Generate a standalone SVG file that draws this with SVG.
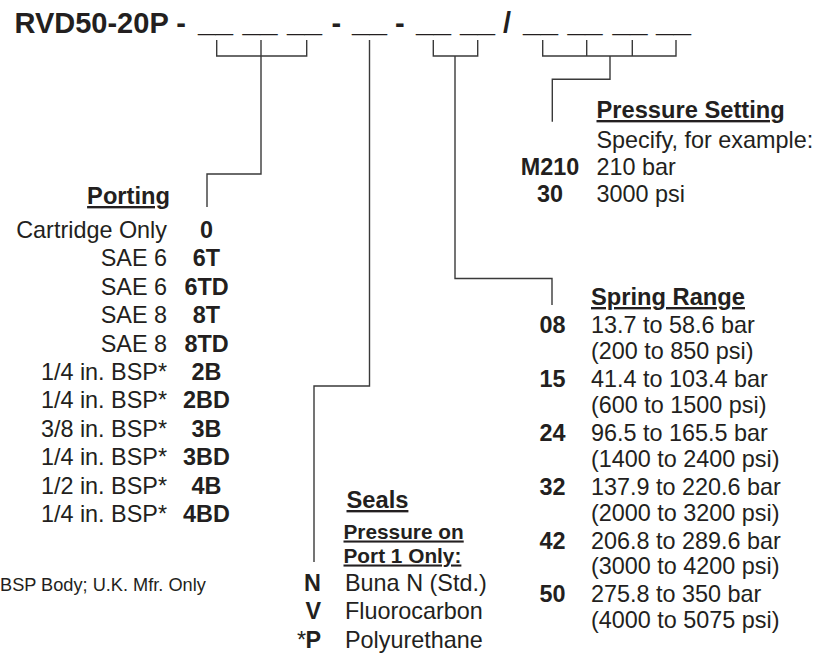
<svg xmlns="http://www.w3.org/2000/svg" width="835" height="654" viewBox="0 0 835 654">
<style>
text{font-family:"Liberation Sans",Arial,Helvetica,sans-serif;fill:#231f20}
.t{font-size:29px;font-weight:bold}
.u{font-size:29px;font-weight:bold}
.r{font-size:23.4px}
.b{font-size:23.4px;font-weight:bold}
.h{font-size:23.7px;font-weight:bold;text-decoration:underline}
.sh{font-size:20.8px;font-weight:bold;text-decoration:underline}
.fn{font-size:18.2px}
.e{text-anchor:end}
.m{text-anchor:middle}
.ln{fill:none;stroke:#3a3a3a;stroke-width:1.4}
</style>
<rect width="835" height="654" fill="#fff"/>
<g id="model-code">
<text class="t" x="14.5" y="32.5">RVD50-20P -</text>
<text class="u" x="198" y="32" textLength="35" lengthAdjust="spacingAndGlyphs">__</text>
<text class="u" x="242.5" y="32" textLength="35" lengthAdjust="spacingAndGlyphs">__</text>
<text class="u" x="287" y="32" textLength="35" lengthAdjust="spacingAndGlyphs">__</text>
<text class="t" x="331.5" y="32.5">-</text>
<text class="u" x="352" y="32" textLength="35" lengthAdjust="spacingAndGlyphs">__</text>
<text class="t" x="395" y="32.5">-</text>
<text class="u" x="416" y="32" textLength="35" lengthAdjust="spacingAndGlyphs">__</text>
<text class="u" x="460" y="32" textLength="35" lengthAdjust="spacingAndGlyphs">__</text>
<text class="t" x="503" y="32.5">/</text>
<text class="u" x="523" y="32" textLength="35" lengthAdjust="spacingAndGlyphs">__</text>
<text class="u" x="567.5" y="32" textLength="35" lengthAdjust="spacingAndGlyphs">__</text>
<text class="u" x="612.5" y="32" textLength="35" lengthAdjust="spacingAndGlyphs">__</text>
<text class="u" x="656" y="32" textLength="35" lengthAdjust="spacingAndGlyphs">__</text>
</g>
<g id="connectors" class="ln">
<path class="ln" d="M216.7 40V56H306.7V40M261 40V174H207V207"/>
<path class="ln" d="M369.5 40V386H314V562"/>
<path class="ln" d="M433.3 40V56H477.7V40M455 56V278.5H552V305"/>
<path class="ln" d="M542.7 40V56H676V40M586.7 40V56M632.3 40V56M610 56V79.3H552.3V121.7"/>
</g>
<g id="porting">
<text class="h e" x="170" y="204">Porting</text>
<text class="r e" x="167" y="238">Cartridge Only</text><text class="b m" x="206.5" y="238">0</text>
<text class="r e" x="167" y="266.4">SAE 6</text><text class="b m" x="206.5" y="266.4">6T</text>
<text class="r e" x="167" y="294.8">SAE 6</text><text class="b m" x="206.5" y="294.8">6TD</text>
<text class="r e" x="167" y="323.2">SAE 8</text><text class="b m" x="206.5" y="323.2">8T</text>
<text class="r e" x="167" y="351.6">SAE 8</text><text class="b m" x="206.5" y="351.6">8TD</text>
<text class="r e" x="167" y="380">1/4 in. BSP*</text><text class="b m" x="206.5" y="380">2B</text>
<text class="r e" x="167" y="408.4">1/4 in. BSP*</text><text class="b m" x="206.5" y="408.4">2BD</text>
<text class="r e" x="167" y="436.8">3/8 in. BSP*</text><text class="b m" x="206.5" y="436.8">3B</text>
<text class="r e" x="167" y="465.2">1/4 in. BSP*</text><text class="b m" x="206.5" y="465.2">3BD</text>
<text class="r e" x="167" y="493.6">1/2 in. BSP*</text><text class="b m" x="206.5" y="493.6">4B</text>
<text class="r e" x="167" y="522">1/4 in. BSP*</text><text class="b m" x="206.5" y="522">4BD</text>
</g>
<g id="footnote">
<text class="fn" x="0" y="591">BSP Body; U.K. Mfr. Only</text>
</g>
<g id="seals">
<text class="h" x="346.5" y="508">Seals</text>
<text class="sh" x="343.5" y="538.5">Pressure on</text>
<text class="sh" x="343.5" y="562.5">Port 1 Only:</text>
<text class="b e" x="321" y="591">N</text><text class="r" x="345" y="591">Buna N (Std.)</text>
<text class="b e" x="321" y="619">V</text><text class="r" x="345" y="619">Fluorocarbon</text>
<text class="r e" x="306" y="648">*</text><text class="b e" x="321" y="648">P</text><text class="r" x="345" y="648">Polyurethane</text>
</g>
<g id="pressure-setting">
<text class="h" x="596.5" y="118">Pressure Setting</text>
<text class="r" x="596.5" y="148">Specify, for example:</text>
<text class="b m" x="550" y="175">M210</text><text class="r" x="596.5" y="175">210 bar</text>
<text class="b m" x="550" y="202">30</text><text class="r" x="596.5" y="202">3000 psi</text>
</g>
<g id="spring-range">
<text class="h" x="591" y="305">Spring Range</text>
<text class="b" x="539.5" y="333">08</text><text class="r" x="591" y="333">13.7 to 58.6 bar</text>
<text class="r" x="591" y="358.5">(200 to 850 psi)</text>
<text class="b" x="539.5" y="387">15</text><text class="r" x="591" y="387">41.4 to 103.4 bar</text>
<text class="r" x="591" y="412.5">(600 to 1500 psi)</text>
<text class="b" x="539.5" y="441">24</text><text class="r" x="591" y="441">96.5 to 165.5 bar</text>
<text class="r" x="591" y="466.5">(1400 to 2400 psi)</text>
<text class="b" x="539.5" y="495">32</text><text class="r" x="591" y="495">137.9 to 220.6 bar</text>
<text class="r" x="591" y="520.5">(2000 to 3200 psi)</text>
<text class="b" x="539.5" y="548.5">42</text><text class="r" x="591" y="548.5">206.8 to 289.6 bar</text>
<text class="r" x="591" y="574">(3000 to 4200 psi)</text>
<text class="b" x="539.5" y="602">50</text><text class="r" x="591" y="602">275.8 to 350 bar</text>
<text class="r" x="591" y="627.5">(4000 to 5075 psi)</text>
</g>
</svg>
